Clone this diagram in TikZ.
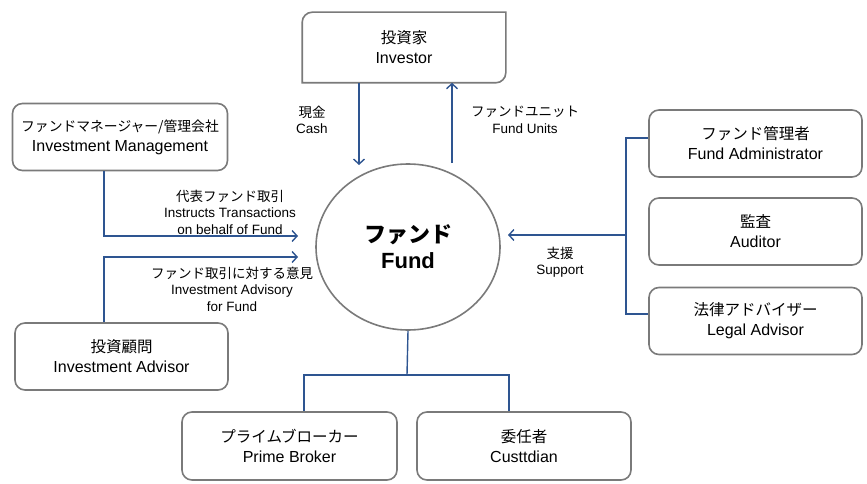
\documentclass[tikz,border=0pt]{standalone}
\usepackage{fontspec}
\setmainfont{Liberation Sans}
\newfontfamily\jp{Noto Sans CJK JP}
\usetikzlibrary{arrows.meta,shapes.geometric}
\definecolor{linkblue}{HTML}{2E5591}
\definecolor{boxgray}{HTML}{7A7A7A}
\tikzset{
  party/.style={draw=boxgray,line width=1.6pt,rounded corners=10pt,minimum width=214pt,
    minimum height=67pt,align=center,font=\fontsize{16}{20}\selectfont},
  flow/.style={draw=linkblue,line width=1.4pt,-{Straight Barb[length=5pt,width=11pt,line width=1.4pt]}},
  link/.style={draw=linkblue,line width=1.4pt},
  tag/.style={align=center,font=\fontsize{13.5}{16.5}\selectfont}
}
\newcommand\jpline[1]{{\jp\fontsize{15.5}{20}\selectfont #1}}
\begin{document}
\begin{tikzpicture}[x=1pt,y=-1pt]
  \useasboundingbox (0,0) rectangle (867,484);
  % the fund in the middle
  \node[ellipse,draw=boxgray,line width=1.6pt,minimum width=184pt,minimum height=166pt,
    align=center,font=\fontsize{22}{26}\selectfont\bfseries] (fund) at (408,247)
    {{\jp ファンド}\\Fund};
  % parties
  \node[party,draw=none,minimum width=202pt,minimum height=69pt] (inv) at (404,47.5) {\jpline{投資家}\\Investor};
  \draw[draw=boxgray,line width=1.6pt] ([xshift=10pt]inv.north west) -- (inv.north east)
    -- ([yshift=10pt]inv.south east)
    .. controls ([yshift=4.5pt]inv.south east) and ([xshift=-4.5pt]inv.south east) .. ([xshift=-10pt]inv.south east)
    -- (inv.south west) -- ([yshift=-10pt]inv.north west)
    .. controls ([yshift=-4.5pt]inv.north west) and ([xshift=4.5pt]inv.north west) .. cycle;
  \node[party,minimum width=215pt] (mgmt) at (120,137) {{\jp\fontsize{13.8}{20}\selectfont ファンドマネージャー/管理会社}\\Investment Management};
  \node[party,minimum width=213pt] (adv) at (121.5,356.5) {\jpline{投資顧問}\\Investment Advisor};
  \node[party,minimum width=213pt] (admin) at (755.5,143.5) {\jpline{ファンド管理者}\\Fund Administrator};
  \node[party,minimum width=213pt] (aud) at (755.5,231.5) {\jpline{監査}\\Auditor};
  \node[party,minimum width=213pt] (legal) at (755.5,321) {\jpline{法律アドバイザー}\\Legal Advisor};
  \node[party,minimum width=215pt,minimum height=68pt] (pb) at (289.5,446) {\jpline{プライムブローカー}\\Prime Broker};
  \node[party,minimum width=214pt,minimum height=68pt] (cust) at (524,446) {\jpline{委任者}\\Custtdian};
  % ends of the arrows
  \coordinate (cashin) at (359,165);
  \coordinate (unitsout) at (452,163);
  \coordinate (instin) at (298,236);
  \coordinate (advin) at (298,257);
  \coordinate (bus) at (626,235);
  \coordinate (suppin) at (508,235);
  \coordinate (fork) at (407,375);
  % connectors
  \draw[flow] (inv.south -| cashin) -- (cashin);
  \draw[flow] (unitsout) -- (inv.south -| unitsout);
  \draw[flow] ([xshift=-16pt]mgmt.south) |- (instin);
  \draw[flow] ([xshift=-17.5pt]adv.north) |- (advin);
  \draw[link] ([yshift=5.5pt]admin.west) -| (bus);
  \draw[link] ([yshift=7pt]legal.west) -| (bus);
  \draw[flow] (bus) -- (suppin);
  \draw[link] (fund.south) -- (fork);
  \draw[link] (fork) -| ([xshift=14.5pt]pb.north);
  \draw[link] (fork) -| ([xshift=-15pt]cust.north);
  % labels
  \node[tag] (cash) at (312,120) {{\jp 現金}\\Cash};
  \node[tag] (units) at (525,120) {{\jp ファンドユニット}\\Fund Units};
  \node[tag] (inst) at (230,212) {{\jp 代表ファンド取引}\\Instructs Transactions\\on behalf of Fund};
  \node[tag] (advice) at (232,289) {{\jp ファンド取引に対する意見}\\Investment Advisory\\for Fund};
  \node[tag] (supp) at (560,262) {{\jp 支援}\\Support};
\end{tikzpicture}
\end{document}
